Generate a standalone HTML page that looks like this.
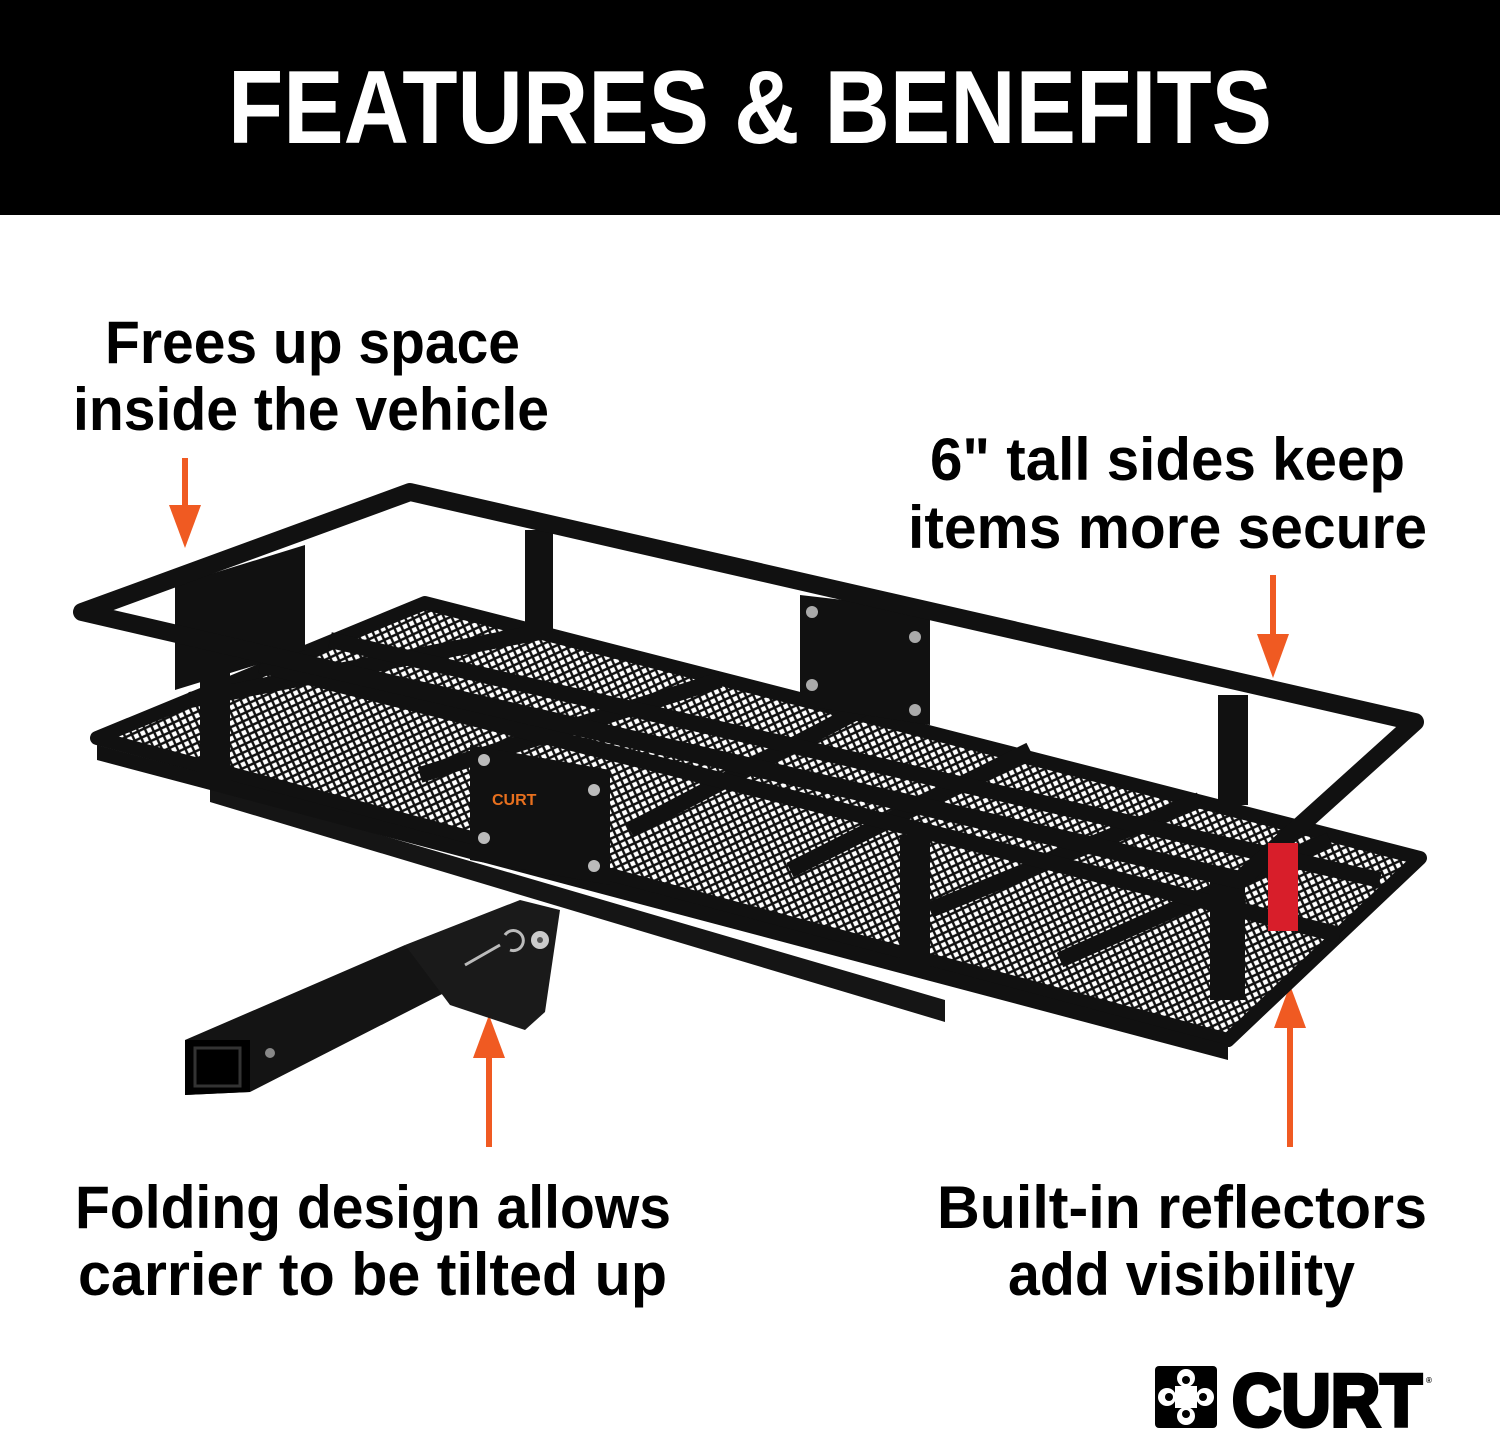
<!DOCTYPE html>
<html><head><meta charset="utf-8"><style>
html,body{margin:0;padding:0;background:#fff}
svg{display:block}
text{font-family:"Liberation Sans",sans-serif;font-weight:bold;fill:#000}
</style></head><body>
<svg width="1500" height="1436" viewBox="0 0 1500 1436" xmlns="http://www.w3.org/2000/svg">
<defs>
<pattern id="mesh" width="10" height="10" patternUnits="userSpaceOnUse" patternTransform="rotate(20)">
<rect width="10" height="10" fill="#fff"/>
<path d="M0 0L10 10M10 0L0 10" stroke="#111" stroke-width="2.4"/>
</pattern>
</defs>
<rect x="0" y="0" width="1500" height="215" fill="#000"/>
<text x="228" y="143" font-size="104" textLength="1044" lengthAdjust="spacingAndGlyphs" style="fill:#fff">FEATURES &amp; BENEFITS</text>

<text x="105" y="363" font-size="60" textLength="415" lengthAdjust="spacingAndGlyphs">Frees up space</text>
<text x="73" y="430" font-size="60" textLength="476" lengthAdjust="spacingAndGlyphs">inside the vehicle</text>
<text x="930" y="480" font-size="60" textLength="475" lengthAdjust="spacingAndGlyphs">6" tall sides keep</text>
<text x="908" y="548" font-size="60" textLength="519" lengthAdjust="spacingAndGlyphs">items more secure</text>
<text x="75" y="1228" font-size="60" textLength="596" lengthAdjust="spacingAndGlyphs">Folding design allows</text>
<text x="78" y="1295" font-size="60" textLength="589" lengthAdjust="spacingAndGlyphs">carrier to be tilted up</text>
<text x="937" y="1228" font-size="60" textLength="490" lengthAdjust="spacingAndGlyphs">Built-in reflectors</text>
<text x="1008" y="1295" font-size="60" textLength="347" lengthAdjust="spacingAndGlyphs">add visibility</text>

<g fill="#f05a22">
<rect x="182" y="458" width="6" height="50"/><polygon points="169,505 201,505 185,548"/>
<rect x="1270" y="575" width="6" height="62"/><polygon points="1257,634 1289,634 1273,678"/>
<rect x="486" y="1055" width="6" height="92"/><polygon points="473,1058 505,1058 489,1015"/>
<rect x="1287" y="1025" width="6" height="122"/><polygon points="1274,1028 1306,1028 1290,985"/>
</g>

<g>
<polygon points="210,785 945,1000 945,1022 210,802" fill="#151515"/>
<polygon points="330,800 1000,960 1000,975 330,815" fill="#222"/>
<polygon points="97,738 425,603 1420,858 1228,1040" fill="url(#mesh)" stroke="#111" stroke-width="14" stroke-linejoin="round"/>
<polygon points="97,745 1228,1045 1228,1060 97,760" fill="#111"/>
<g stroke="#111" stroke-width="16">
<line x1="190" y1="700" x2="540" y2="632"/>
<line x1="420" y1="775" x2="720" y2="680"/>
<line x1="630" y1="830" x2="870" y2="705"/>
<line x1="790" y1="870" x2="1030" y2="750"/>
<line x1="930" y1="910" x2="1200" y2="800"/>
<line x1="1060" y1="960" x2="1330" y2="840"/>
<line x1="260" y1="665" x2="1340" y2="935"/>
<line x1="330" y1="640" x2="1380" y2="880"/>
</g>
<polygon points="175,585 305,545 305,650 175,690" fill="#111"/>
<polygon points="800,595 930,610 930,725 800,705" fill="#111"/>
<g fill="#aaa"><circle cx="812" cy="612" r="6"/><circle cx="915" cy="637" r="6"/><circle cx="812" cy="685" r="6"/><circle cx="915" cy="710" r="6"/></g>
<g fill="#111">
<rect x="525" y="530" width="28" height="110"/>
<rect x="1218" y="695" width="30" height="110"/>
<rect x="200" y="660" width="30" height="120"/>
<rect x="900" y="835" width="30" height="135"/>
<rect x="1210" y="880" width="35" height="120"/>
</g>
<polygon points="470,745 610,770 610,885 470,860" fill="#111"/>
<text x="492" y="805" font-size="16" style="fill:#e8701e">CURT</text>
<g fill="#bbb"><circle cx="484" cy="760" r="6"/><circle cx="594" cy="790" r="6"/><circle cx="484" cy="838" r="6"/><circle cx="594" cy="866" r="6"/></g>
<polygon points="82,612 410,492 1415,722 1240,880" fill="none" stroke="#111" stroke-width="18" stroke-linejoin="round"/>
<rect x="1268" y="843" width="30" height="88" fill="#d81e2a"/>
<polygon points="185,1040 405,945 450,990 250,1092 185,1095" fill="#141414"/>
<polygon points="185,1040 250,1040 250,1092 185,1095" fill="#000"/>
<rect x="195" y="1048" width="45" height="38" fill="none" stroke="#333" stroke-width="3"/>
<circle cx="270" cy="1053" r="5" fill="#888"/>
<polygon points="405,945 520,900 560,910 545,1012 525,1030 450,1005" fill="#1a1a1a"/>
<circle cx="540" cy="940" r="9" fill="#ccc"/>
<circle cx="540" cy="940" r="3" fill="#555"/>
<path d="M465,965 L500,945 M505,935 a10,10 0 1,1 5,15" stroke="#bbb" stroke-width="3" fill="none"/>
</g>

<g>
<rect x="1155" y="1366" width="62" height="62" rx="4" fill="#000"/>
<g fill="#fff">
<circle cx="1186" cy="1378" r="9"/><circle cx="1186" cy="1416" r="9"/>
<circle cx="1167" cy="1397" r="9"/><circle cx="1205" cy="1397" r="9"/>
<rect x="1175" y="1386" width="22" height="22"/>
</g>
<g fill="#000"><circle cx="1186" cy="1380" r="4"/><circle cx="1169" cy="1397" r="4"/><circle cx="1203" cy="1397" r="4"/><circle cx="1186" cy="1414" r="4"/></g>
<text x="1232" y="1426" font-size="74" textLength="190" lengthAdjust="spacingAndGlyphs" style="font-family:'Liberation Sans',sans-serif;font-weight:900;stroke:#000;stroke-width:4">CURT</text>
<text x="1426" y="1383" font-size="8">®</text>
</g>
</svg>
</body></html>
